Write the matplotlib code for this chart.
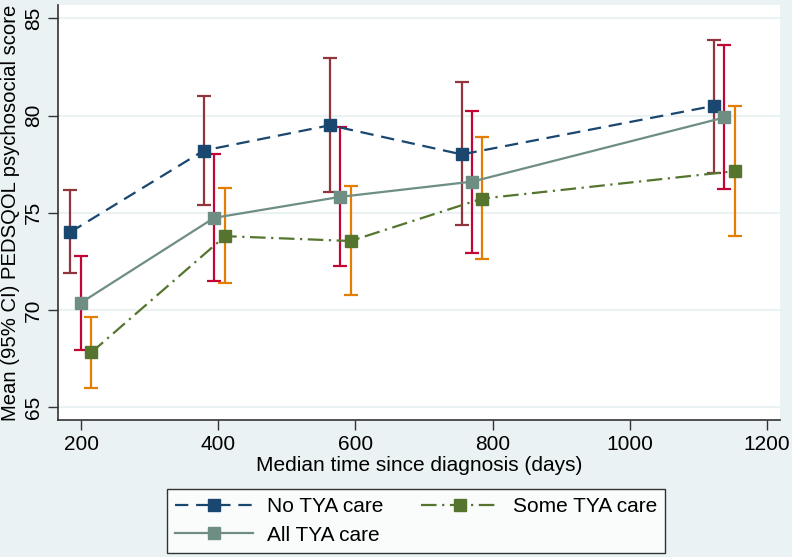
import matplotlib
matplotlib.use("Agg")
import matplotlib.pyplot as plt
from matplotlib.lines import Line2D

plt.rcParams['font.family'] = ['Liberation Sans', 'DejaVu Sans']

# Data
no_x = [184, 379, 563, 755, 1123]
no_y = [74.0, 78.2, 79.5, 78.0, 80.5]
no_lo = [71.9, 75.4, 76.05, 74.35, 77.07]
no_hi = [76.15, 81.0, 82.95, 81.7, 83.9]

all_x = [200, 394, 578, 770, 1138]
all_y = [70.38, 74.74, 75.82, 76.6, 79.9]
all_lo = [67.95, 71.5, 72.25, 72.95, 76.2]
all_hi = [72.8, 78.0, 79.42, 80.24, 83.6]

some_x = [215, 410, 593, 785, 1153]
some_y = [67.82, 73.8, 73.55, 75.73, 77.14]
some_lo = [66.0, 71.38, 70.78, 72.6, 73.8]
some_hi = [69.66, 76.25, 76.37, 78.89, 80.5]

labels = ["No TYA care", "All TYA care", "Some TYA care"]
xticks = [200, 400, 600, 800, 1000, 1200]
yticks = [65, 70, 75, 80, 85]

bg = '#eaf2f3'
navy = '#1a476f'; maroon = '#90353b'
teal = '#6e8e84'; cranberry = '#c10534'
green = '#55752f'; orange = '#e37e00'

fig = plt.figure(figsize=(7.92, 5.57), dpi=100, facecolor=bg)
ax = fig.add_axes([58/792, 1-420/557, (780-58)/792, (420-5)/557])
ax.set_facecolor('white')

series = [
    (no_x, no_y, no_lo, no_hi, navy, maroon, (0, (6, 3.5))),
    (all_x, all_y, all_lo, all_hi, teal, cranberry, '-'),
    (some_x, some_y, some_lo, some_hi, green, orange, (0, (7, 2.5, 1, 2.5))),
]
handles = []
for (x, y, lo, hi, c, ec, ls), lab in zip(series, labels):
    yerr = [[yy - l for yy, l in zip(y, lo)], [h - yy for yy, h in zip(y, hi)]]
    ax.errorbar(x, y, yerr=yerr, fmt='none', ecolor=ec, elinewidth=1.6,
                capsize=5, capthick=1.6, zorder=2)
for (x, y, lo, hi, c, ec, ls), lab in zip(series, labels):
    ax.plot(x, y, color=c, linestyle=ls, linewidth=1.6, zorder=3)
    ax.plot(x, y, linestyle='none', marker='s', markersize=8,
            color=c, markeredgecolor=c, zorder=4)
    handles.append(Line2D([0], [0], color=c, linestyle=ls, linewidth=1.6,
                          marker='s', markersize=8))

ax.set_xlim(166.4, 1219)
ax.set_ylim(64.35, 85.68)
ax.set_xticks(xticks)
ax.set_yticks(yticks)
ax.set_yticklabels([str(v) for v in yticks], rotation=90, va='center')
ax.tick_params(axis='both', labelsize=15, length=7, width=1, color='#333333',
               direction='out', pad=4)
ax.grid(axis='y', color=bg, linewidth=1.5)
ax.set_axisbelow(True)
for s in ['top', 'right']:
    ax.spines[s].set_visible(False)
for s in ['left', 'bottom']:
    ax.spines[s].set_color('#333333')
    ax.spines[s].set_linewidth(1.2)

ax.set_xlabel("Median time since diagnosis (days)", fontsize=15, labelpad=1)
ax.set_ylabel("Mean (95% CI) PEDSQOL psychosocial score", fontsize=14.6, labelpad=3)

leg = fig.legend(handles, labels, ncol=2, loc='upper left',
                 bbox_to_anchor=(167/792, 1-489/557),
                 fontsize=15, frameon=True, fancybox=False,
                 edgecolor='black', handlelength=3.75, handletextpad=0.65,
                 columnspacing=1.8, borderpad=0.4, labelspacing=0.45,
                 borderaxespad=0)
leg.get_frame().set_linewidth(1.0)

fig.savefig('out.png', dpi=100, facecolor=bg)
